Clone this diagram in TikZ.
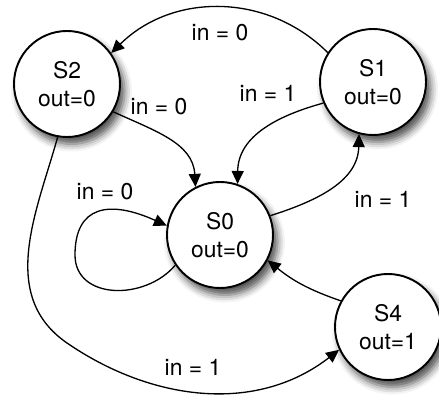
\documentclass[tikz,border=0pt]{standalone}
\usepackage{fontspec}
\setmainfont{TeX Gyre Heros}
\usetikzlibrary{arrows.meta,shadows.blur}

\begin{document}
\begin{tikzpicture}[
  state/.style={circle, draw, line width=1.1pt, fill=white, minimum size=2.12cm, inner sep=0pt, align=center,
    font=\fontsize{13}{15.6}\selectfont,
    blur shadow={shadow xshift=0.9mm, shadow yshift=-1.4mm, shadow blur radius=1.5mm, shadow opacity=70}},
  trans/.style={-{Triangle[length=2.6mm,width=2.4mm]}, line width=0.75pt},
  lbl/.style={font=\fontsize{13}{15.6}\selectfont, inner sep=1pt}
]
\useasboundingbox (0,0) rectangle (8.78,8);
% States
\node[state] (s2) at (1.34,6.32) {S2\\out=0};
\node[state] (s1) at (7.46,6.36) {S1\\out=0};
\node[state] (s0) at (4.40,3.30) {S0\\out=0};
\node[state] (s4) at (7.76,1.46) {S4\\out=1};
% Transitions
\draw[trans] (s1.147) .. controls (5.35,8.15) and (3.45,8.15) .. (s2.35);
\draw[trans] (s2.329) .. controls (3.10,5.38) and (3.86,5.14) .. (s0.117);
\draw[trans] (s1.203) .. controls (5.60,5.70) and (4.76,5.30) .. (s0.71);
\draw[trans] (s0.21) .. controls (6.40,4.00) and (7.16,4.40) .. (s1.255);
\draw[trans] (s0.214) .. controls (2.90,1.98) and (1.50,2.00) .. (1.50,2.90)
  .. controls (1.50,3.90) and (2.20,4.00) .. (s0.170);
\draw[trans] (s2.260) .. controls (0.75,3.80) and (-0.05,2.10) .. (1.34,1.14)
  .. controls (3.00,0.00) and (5.10,-0.30) .. (s4.205);
\draw[trans] (s4.151) to[bend left=10] (s0.332);
% Labels
\node[lbl] (l10) at (4.40,7.34) {in = 0};
\node[lbl] (l20) at (3.18,5.86) {in = 0};
\node[lbl] (l12) at (5.36,6.14) {in = 1};
\node[lbl] (l01) at (7.66,4.02) {in = 1};
\node[lbl] (l00) at (2.10,4.16) {in = 0};
\node[lbl] (l24) at (3.86,0.66) {in = 1};
\end{tikzpicture}
\end{document}
